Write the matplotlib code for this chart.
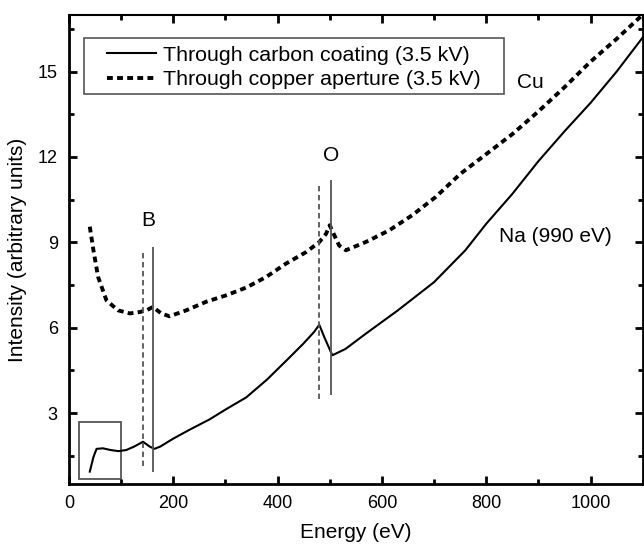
import numpy as np
import matplotlib
matplotlib.use("Agg")
import matplotlib.pyplot as plt
from matplotlib.ticker import MultipleLocator
from matplotlib.patches import Rectangle

plt.rcParams['font.family'] = ['Liberation Sans', 'DejaVu Sans']

# carbon coating spectrum (solid)
carbon_energy = [40, 47, 53, 65, 80, 95, 110, 125, 142, 155, 164, 175, 200, 230, 270,
                 300, 340, 380, 420, 450, 470, 480, 490, 505, 530, 570, 630, 700, 760,
                 800, 850, 900, 950, 1000, 1050, 1100]
carbon_intensity = [0.94, 1.45, 1.74, 1.76, 1.70, 1.66, 1.70, 1.82, 1.99, 1.82, 1.74, 1.82,
                    2.10, 2.40, 2.78, 3.12, 3.55, 4.18, 4.90, 5.45, 5.85, 6.10, 5.65, 5.03,
                    5.25, 5.80, 6.60, 7.60, 8.72, 9.65, 10.70, 11.85, 12.90, 13.90, 15.00, 16.20]

# copper aperture spectrum (dashed)
copper_energy = [40, 47, 56, 72, 94, 117, 136, 150, 161, 177, 193, 225, 263, 302, 340, 378,
                 416, 455, 480, 493, 500, 510, 518, 531, 569, 614, 658, 703, 750, 800, 850,
                 900, 950, 1000, 1050, 1100]
copper_intensity = [9.55, 8.72, 7.78, 6.96, 6.61, 6.50, 6.55, 6.62, 6.73, 6.50, 6.40, 6.61,
                    6.91, 7.14, 7.41, 7.78, 8.25, 8.66, 9.01, 9.30, 9.60, 9.20, 8.89, 8.72,
                    9.01, 9.42, 9.95, 10.59, 11.40, 12.10, 12.80, 13.60, 14.45, 15.35, 16.15, 17.0]

# edge markers: (x, ymin, ymax)
marker_dashed = [(142, 1.14, 8.66), (480, 3.49, 11.0)]
marker_solid = [(161, 0.94, 8.84), (502, 3.64, 11.18)]

labels = [("B", 152, 9.77), ("O", 502, 12.05), ("Cu", 885, 14.62), ("Na (990 eV)", 932, 9.19)]

fig = plt.figure(figsize=(6.44, 5.44), dpi=100)
ax = fig.add_axes([0.107, 0.110, 0.891, 0.863])

ax.plot(carbon_energy, carbon_intensity, color='black', lw=1.5,
        label='Through carbon coating (3.5 kV)')
ax.plot(copper_energy, copper_intensity, color='black', lw=2.8, linestyle=(0, (1.5, 1.1)),
        label='Through copper aperture (3.5 kV)')

for x, y0, y1 in marker_dashed:
    ax.vlines(x, y0, y1, colors='#555555', lw=1.3, linestyles=(0, (3, 2)))
for x, y0, y1 in marker_solid:
    ax.vlines(x, y0, y1, colors='#555555', lw=1.3)

for txt, x, y in labels:
    ax.text(x, y, txt, fontsize=15, ha='center', va='center')

ax.add_patch(Rectangle((20, 0.68), 79, 2.01, fill=False, edgecolor='#555555', lw=1.3))

ax.set_xlim(0, 1100)
ax.set_ylim(0.5, 17)
ax.xaxis.set_major_locator(MultipleLocator(200))
ax.xaxis.set_minor_locator(MultipleLocator(100))
ax.yaxis.set_major_locator(MultipleLocator(3))
ax.yaxis.set_minor_locator(MultipleLocator(1.5))
ax.tick_params(which='both', direction='in', top=True, right=True, width=2, labelsize=13, pad=8)
ax.tick_params(which='major', length=6)
ax.tick_params(which='minor', length=3.5)
for s in ax.spines.values():
    s.set_linewidth(2)
ax.spines['top'].set_linewidth(1.5)

ax.set_xlabel('Energy (eV)', fontsize=15, labelpad=8)
ax.set_ylabel('Intensity (arbitrary units)', fontsize=15, labelpad=8)

# legend frame drawn separately so the padding can be wider than tall
ax.add_patch(Rectangle((0.026, 0.831), 0.732, 0.119, transform=ax.transAxes, fill=False,
                       edgecolor='#555555', lw=1.2, zorder=4))
ax.legend(loc='upper left', bbox_to_anchor=(0.066, 0.934), fontsize=15.4, frameon=False,
          handlelength=2.3, borderaxespad=0, borderpad=0, labelspacing=0.25,
          handletextpad=0.35)

fig.savefig('out.png', dpi=100)
